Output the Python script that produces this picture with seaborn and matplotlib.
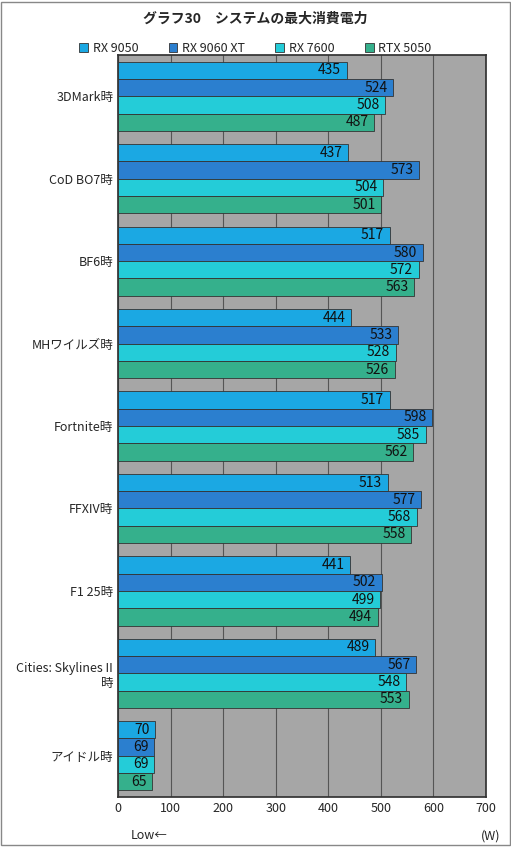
import matplotlib
matplotlib.use("Agg")
import matplotlib.pyplot as plt
import seaborn as sns
import pandas as pd

categories = ["3DMark時", "CoD BO7時", "BF6時", "MHワイルズ時", "Fortnite時", "FFXIV時", "F1 25時", "Cities: Skylines II\n時", "アイドル時"]
series = ["RX 9050", "RX 9060 XT", "RX 7600", "RTX 5050"]
rx9050 = [435, 437, 517, 444, 517, 513, 441, 489, 70]
rx9060xt = [524, 573, 580, 533, 598, 577, 502, 567, 69]
rx7600 = [508, 504, 572, 528, 585, 568, 499, 548, 69]
rtx5050 = [487, 501, 563, 526, 562, 558, 494, 553, 65]
colors = ["#1ba8e3", "#2b7fcf", "#24ccd8", "#35b08c"]

rows = []
for s, vals in zip(series, [rx9050, rx9060xt, rx7600, rtx5050]):
    for c, v in zip(categories, vals):
        rows.append({"cat": c, "series": s, "val": v})
df = pd.DataFrame(rows)

sns.set_theme(style="white")
plt.rcParams['font.family'] = ['Noto Sans CJK JP', 'DejaVu Sans']

fig = plt.figure(figsize=(5.11, 8.47), dpi=100)
ax = fig.add_axes([0.231, 0.059, 0.72, 0.876])
ax.set_facecolor("#a6a6a6")
sns.barplot(data=df, x="val", y="cat", hue="series", palette=colors, orient="h", saturation=1,
            width=0.84, edgecolor="#333333", linewidth=0.6, ax=ax, legend=True, zorder=3)
for cont in ax.containers:
    texts = ax.bar_label(cont, padding=-4, fontsize=10, color="#111111")
    for t in texts:
        t.set_horizontalalignment("right")
ax.set_xlim(0, 700)
ax.set_xticks(range(0, 701, 100))
ax.grid(axis="x", color="#555555", linewidth=0.8, zorder=0)
ax.set_axisbelow(True)
ax.set_xlabel("")
ax.set_ylabel("")
ax.tick_params(axis="both", labelsize=9, length=0)
for sp in ax.spines.values():
    sp.set_color("#333333")
h, l = ax.get_legend_handles_labels()
ax.legend_.remove()
fig.legend(h, l, loc="upper center", bbox_to_anchor=(0.5, 0.964), ncol=4, frameon=False,
           fontsize=9, handlelength=0.7, handleheight=0.7, columnspacing=2.4, handletextpad=0.4)
fig.text(0.5, 0.978, "グラフ30　システムの最大消費電力", ha="center", va="center", fontsize=10, fontweight="bold")
fig.text(0.255, 0.013, "Low←", ha="left", va="center", fontsize=9)
fig.text(0.96, 0.013, "(W)", ha="center", va="center", fontsize=9)
fig.patches.append(plt.Rectangle((0.002, 0.002), 0.996, 0.996, transform=fig.transFigure, fill=False, edgecolor="#888888", linewidth=1))
fig.savefig("out.png", dpi=100)
